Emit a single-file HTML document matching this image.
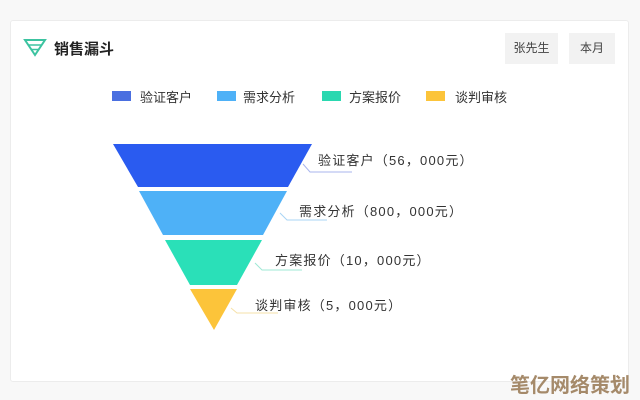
<!DOCTYPE html>
<html><head><meta charset="utf-8"><style>
body{margin:0;width:640px;height:400px;background:#f8f8f8;position:relative;overflow:hidden;font-family:"Liberation Sans","Noto Sans CJK SC",sans-serif;color:#333}
.card{position:absolute;left:10px;top:20px;width:617px;height:360px;background:#fff;border:1px solid #ececec;border-radius:3px}
.t{position:absolute;white-space:nowrap}
.l{letter-spacing:1.2px}
.btn{position:absolute;top:33px;height:31px;background:#f2f2f2;font-size:12px;line-height:31px;text-align:center;color:#444}
.lg{position:absolute;top:91px;width:19px;height:10px}
</style></head><body>
<div class="card"></div>
<svg style="position:absolute;left:0;top:0" width="640" height="400">
<polygon points="25,40 45,40 35,55" fill="none" stroke="#3cc3a0" stroke-width="2"/>
<line x1="29" y1="45" x2="41" y2="45" stroke="#3cc3a0" stroke-width="1.5"/>
<line x1="32" y1="49.5" x2="38" y2="49.5" stroke="#3cc3a0" stroke-width="1.5"/>
<polygon points="113,144 312,144 288,187 138,187" fill="#2a5bf0"/>
<polygon points="139,191 287,191 263,235 163,235" fill="#4eb1f7"/>
<polygon points="165,240 262,240 237,285 190,285" fill="#2ae0b8"/>
<polygon points="190,289 237,289 214,330" fill="#fcc43a"/>
<polyline points="303,164 310,172 352,172" fill="none" stroke="#a9b5ee" stroke-width="1"/>
<polyline points="280,213 287,220 327,220" fill="none" stroke="#a8d4f5" stroke-width="1"/>
<polyline points="255,263 262,270 302,270" fill="none" stroke="#9fe8d5" stroke-width="1"/>
<polyline points="231,308 237,313 278,313" fill="none" stroke="#f6e1a8" stroke-width="1"/>
</svg>
<div class="t" style="left:54px;top:38px;font-size:15px;font-weight:bold;color:#222">销售漏斗</div>
<div class="btn" style="left:505px;width:53px">张先生</div>
<div class="btn" style="left:569px;width:46px">本月</div>
<div class="lg" style="left:112px;background:#4a6fe0"></div><div class="t" style="left:140px;top:87px;font-size:13px">验证客户</div>
<div class="lg" style="left:217px;background:#4eb1f7"></div><div class="t" style="left:243px;top:87px;font-size:13px">需求分析</div>
<div class="lg" style="left:322px;background:#2ad8b0"></div><div class="t" style="left:349px;top:87px;font-size:13px">方案报价</div>
<div class="lg" style="left:426px;background:#fcc43a"></div><div class="t" style="left:455px;top:87px;font-size:13px">谈判审核</div>
<div class="t l" style="left:318px;top:150px;font-size:13px">验证客户（56，000元）</div>
<div class="t l" style="left:299px;top:201px;font-size:13px">需求分析（800，000元）</div>
<div class="t l" style="left:275px;top:250px;font-size:13px">方案报价（10，000元）</div>
<div class="t l" style="left:255px;top:295px;font-size:13px">谈判审核（5，000元）</div>
<div class="t" style="left:510px;top:369px;font-size:20px;font-weight:bold;color:#a58a6a">笔亿网络策划</div>
</body></html>
